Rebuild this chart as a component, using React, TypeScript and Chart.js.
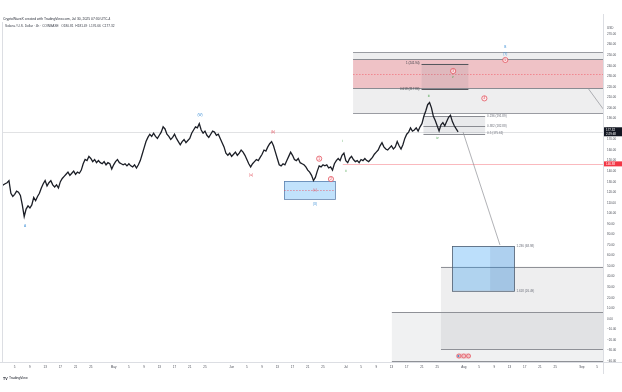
import React, { useEffect, useRef } from 'react';
import { Chart, registerables } from 'chart.js';

Chart.register(...registerables);

// ---- price data: 12h closes, Apr 1 2025 (day 0) onward ----
const firstDay = 0.5;
const dayStep = 0.5;
const closes = [
  126, 127, 128, 129, 131, 119, 116, 118, 121, 120, 117, 108, 97, 104, 107, 105, 108, 115, 112, 116,
  119, 124, 128, 131, 126, 129, 131, 127, 125, 127, 124, 130, 133, 135, 137, 139, 136, 138, 140, 137,
  139, 138, 141, 147, 151, 150, 154, 152, 149, 151, 148, 150, 148, 147, 149, 146, 148, 147, 142, 146,
  149, 151, 148, 147, 146, 147, 145, 147, 145, 144, 146, 143, 146, 150, 156, 162, 168, 172, 175, 173,
  176, 173, 171, 174, 177, 182, 180, 175, 173, 170, 172, 175, 171, 168, 165, 168, 170, 167, 169, 171,
  176, 179, 182, 181, 185, 179, 176, 178, 174, 172, 175, 178, 177, 174, 175, 171, 167, 163, 157, 155,
  157, 154, 156, 158, 155, 157, 160, 158, 155, 151, 147, 144, 147, 149, 151, 150, 153, 156, 160, 159,
  163, 166, 168, 164, 158, 152, 146, 145, 147, 146, 150, 154, 158, 155, 151, 150, 152, 148, 147, 146,
  144, 141, 139, 136, 131, 134, 140, 145, 144, 146, 145, 146, 143, 144, 141, 147, 150, 152, 150, 155,
  157, 150, 148, 152, 154, 151, 149, 150, 148, 151, 150, 152, 150, 149, 151, 153, 156, 158, 160, 164,
  167, 163, 161, 160, 162, 164, 161, 163, 168, 164, 161, 165, 171, 175, 177, 181, 178, 179, 181, 178,
  182, 185, 192, 197, 203, 205, 200, 192, 188, 183, 178, 184, 186, 183, 187, 191, 193, 187, 183, 180,
  177.32,
];

// ---- axes ----
const yTicks = [270, 260, 250, 240, 230, 220, 210, 200, 190, 180, 170, 160, 150, 140, 130, 120, 110, 100, 90, 80, 70, 60, 50, 40, 30, 20, 10, 0, -10, -20, -30, -40];
const xTickDays = [4, 8, 12, 16, 20, 24, 30, 34, 38, 42, 46, 50, 54, 61, 65, 69, 73, 77, 81, 85, 91, 95, 99, 103, 107, 111, 115, 122, 126, 130, 134, 138, 142, 146, 153, 157];
const xTickLabels = ['5', '9', '13', '17', '21', '25', 'May', '5', '9', '13', '17', '21', '25', 'Jun', '5', '9', '13', '17', '21', '25', 'Jul', '5', '9', '13', '17', '21', '25', 'Aug', '5', '9', '13', '17', '21', '25', 'Sep', '5'];

// ---- zones: [startDay, endDay, topPrice, bottomPrice] ----
const upperZone = [92.9, 158.6, 252.9, 195.1];
const pinkZone = [92.9, 158.6, 246.3, 218.8];
const pinkMid = 232.4;
const fibExtZone = [110.9, 123.2, 241.94, 217.86];
const extLevels = [241.94, 217.86];
const extLabels = ['1 (241.94)', '0.618 (217.86)'];
const retraceZone = [111.4, 127.6, 191.89, 175.61];
const retraceLevels = [191.89, 182.88, 175.61];
const retraceLabels = ['0.236 (191.89)', '0.382 (182.88)', '0.5 (175.61)'];
const juneZone = [74.8, 88.2, 130.6, 113.6];
const juneMid = 122.1;
const targetZone = [119.0, 135.3, 68.98, 26.49];
const targetSplit = 128.9;
const targetLevels = [68.98, 26.49];
const targetLabels = ['1.236 (68.98)', '1.618 (26.49)'];
const lowerZoneA = [116.0, 158.6, 49.5, -28.6];
const lowerZoneB = [103.1, 158.6, 6.4, -40.0];

const lastPrice = 177.32;
const markedPrice = 146.88;
const markedFrom = 90.2;
const projectionLine = [[121.8, 177.0], [131.5, 70.0]];
const edgeLine = [[154.6, 218.8], [158.6, 199.0]];

// ---- wave labels: [day, price, text] ----
const blueWave = [[6.7, 88.0, 'A'], [52.7, 193.2, '(W)'], [82.9, 108.8, '(X)'], [132.9, 257.6, 'B'], [132.9, 251.4, '(Y)']];
const redWave = [[66.1, 136.3, '(a)'], [71.9, 177.1, '(b)'], [82.9, 122.1, '(c)']];
const circledWave = [[84.0, 151.8, '1'], [87.1, 132.5, '2'], [119.2, 234.9, '3'], [127.4, 209.0, '4'], [132.9, 245.4, '5']];
const greenWave = [[90.2, 168.6, 'i'], [91.0, 140.1, 'ii'], [112.8, 211.2, 'iii'], [115.1, 171.1, 'iv'], [119.1, 229.0, 'v']];

const headerLine = 'CryptoWaveX created with TradingView.com, Jul 30, 2025 07:30 UTC-4';
const legendLine = 'Solana / U.S. Dollar · 4h · COINBASE   O180.81  H181.49  L176.66  C177.32';

const FONT = '"Liberation Sans", Arial, sans-serif';

const overlay = {
  id: 'overlay',
  beforeDatasetsDraw(chart: any) {
    const { ctx, chartArea: ca, scales } = chart;
    const X = (t: number) => scales.x.getPixelForValue(t);
    const Y = (v: number) => scales.y.getPixelForValue(v);
    ctx.save();
    ctx.beginPath();
    ctx.rect(ca.left, ca.top, ca.right - ca.left, ca.bottom - ca.top);
    ctx.clip();
    const fillZone = (z: number[], color: string) => {
      ctx.fillStyle = color;
      ctx.fillRect(X(z[0]), Y(z[2]), X(z[1]) - X(z[0]), Y(z[3]) - Y(z[2]));
    };
    const hline = (t1: number, t2: number, v: number, color: string, w = 1, dash: number[] = []) => {
      const yy = Math.round(Y(v)) + 0.5;
      ctx.strokeStyle = color;
      ctx.lineWidth = w;
      ctx.setLineDash(dash);
      ctx.beginPath();
      ctx.moveTo(X(t1), yy);
      ctx.lineTo(X(t2), yy);
      ctx.stroke();
      ctx.setLineDash([]);
    };
    // last price line
    hline(0, 160, lastPrice, 'rgba(120,123,134,0.22)');
    // lower zones
    fillZone(lowerZoneB, 'rgba(120,123,134,0.11)');
    fillZone(lowerZoneA, 'rgba(120,123,134,0.13)');
    hline(lowerZoneB[0], lowerZoneB[1], lowerZoneB[2], '#8f9197');
    hline(lowerZoneB[0], lowerZoneB[1], lowerZoneB[3], '#8f9197');
    hline(lowerZoneA[0], lowerZoneA[1], lowerZoneA[2], '#8f9197');
    hline(lowerZoneA[0], lowerZoneA[1], lowerZoneA[3], '#8f9197');
    // upper zones
    fillZone(upperZone, 'rgba(120,123,134,0.13)');
    hline(upperZone[0], upperZone[1], upperZone[2], '#9a9ca2');
    hline(upperZone[0], upperZone[1], upperZone[3], '#9a9ca2');
    fillZone(pinkZone, 'rgba(242,54,69,0.24)');
    hline(pinkZone[0], pinkZone[1], pinkZone[2], '#8a8c92');
    hline(pinkZone[0], pinkZone[1], pinkZone[3], '#8a8c92');
    hline(pinkZone[0], pinkZone[1], pinkMid, 'rgba(242,54,69,0.55)', 0.8, [1.5, 1.5]);
    fillZone(fibExtZone, 'rgba(120,123,134,0.14)');
    extLevels.forEach((v) => hline(fibExtZone[0], fibExtZone[1], v, '#55575d'));
    // june zone
    fillZone(juneZone, 'rgba(33,150,243,0.28)');
    ctx.strokeStyle = 'rgba(70,110,160,0.85)';
    ctx.lineWidth = 0.8;
    ctx.strokeRect(Math.round(X(juneZone[0])) + 0.5, Math.round(Y(juneZone[2])) + 0.5, X(juneZone[1]) - X(juneZone[0]), Y(juneZone[3]) - Y(juneZone[2]));
    hline(juneZone[0], juneZone[1], juneMid, 'rgba(242,54,69,0.6)', 0.8, [1.5, 1.5]);
    // retracement zone
    fillZone(retraceZone, 'rgba(120,123,134,0.16)');
    retraceLevels.forEach((v) => hline(retraceZone[0], retraceZone[1], v, '#8a8c92'));
    // target zone
    fillZone(targetZone, 'rgba(33,150,243,0.3)');
    fillZone([targetSplit, targetZone[1], targetZone[2], targetZone[3]], 'rgba(30,70,120,0.09)');
    ctx.strokeStyle = '#4f5e70';
    ctx.lineWidth = 0.8;
    ctx.strokeRect(Math.round(X(targetZone[0])) + 0.5, Math.round(Y(targetZone[2])) + 0.5, X(targetZone[1]) - X(targetZone[0]), Y(targetZone[3]) - Y(targetZone[2]));
    // marked price line
    hline(markedFrom, 160, markedPrice, 'rgba(242,54,69,0.35)');
    // projection and edge lines
    ctx.strokeStyle = '#8f9197';
    ctx.lineWidth = 0.7;
    [projectionLine, edgeLine].forEach((ln) => {
      ctx.beginPath();
      ctx.moveTo(X(ln[0][0]), Y(ln[0][1]));
      ctx.lineTo(X(ln[1][0]), Y(ln[1][1]));
      ctx.stroke();
    });
    ctx.restore();
  },
  afterDatasetsDraw(chart: any) {
    const { ctx, scales } = chart;
    const X = (t: number) => scales.x.getPixelForValue(t);
    const Y = (v: number) => scales.y.getPixelForValue(v);
    ctx.save();
    ctx.textBaseline = 'middle';
    ctx.font = `3px ${FONT}`;
    // fib labels
    ctx.fillStyle = '#6a6d78';
    ctx.textAlign = 'left';
    retraceLevels.forEach((v, i) => ctx.fillText(retraceLabels[i], X(retraceZone[1]) + 2, Y(v)));
    targetLevels.forEach((v, i) => ctx.fillText(targetLabels[i], X(targetZone[1]) + 2, Y(v)));
    ctx.fillStyle = '#3a3d45';
    ctx.textAlign = 'right';
    extLevels.forEach((v, i) => ctx.fillText(extLabels[i], X(fibExtZone[0]) - 2, Y(v)));
    // wave labels
    ctx.textAlign = 'center';
    ctx.font = `3.2px ${FONT}`;
    ctx.fillStyle = '#3d8fd6';
    blueWave.forEach((l) => ctx.fillText(l[2] as string, X(l[0] as number), Y(l[1] as number)));
    ctx.fillStyle = '#e0434f';
    redWave.forEach((l) => ctx.fillText(l[2] as string, X(l[0] as number), Y(l[1] as number)));
    ctx.fillStyle = '#43a047';
    greenWave.forEach((l) => ctx.fillText(l[2] as string, X(l[0] as number), Y(l[1] as number)));
    circledWave.forEach((l) => {
      const cx = X(l[0] as number);
      const cy = Y(l[1] as number);
      ctx.beginPath();
      ctx.arc(cx, cy, 2.6, 0, Math.PI * 2);
      ctx.fillStyle = 'rgba(255,235,237,0.8)';
      ctx.fill();
      ctx.strokeStyle = '#e0434f';
      ctx.lineWidth = 0.7;
      ctx.stroke();
      ctx.fillStyle = '#e0434f';
      ctx.font = `3px ${FONT}`;
      ctx.fillText(l[2] as string, cx, cy + 0.2);
    });
    ctx.restore();
  },
  afterDraw(chart: any) {
    const { ctx, chartArea: ca, scales } = chart;
    const X = (t: number) => scales.x.getPixelForValue(t);
    const Y = (v: number) => scales.y.getPixelForValue(v);
    ctx.save();
    // frame lines
    ctx.strokeStyle = '#dcdee3';
    ctx.lineWidth = 1;
    ctx.beginPath();
    ctx.moveTo(ca.right + 0.5, 14);
    ctx.lineTo(ca.right + 0.5, 374);
    ctx.moveTo(0, ca.bottom + 0.5);
    ctx.lineTo(622, ca.bottom + 0.5);
    ctx.moveTo(ca.left - 0.5, 22);
    ctx.lineTo(ca.left - 0.5, ca.bottom);
    ctx.stroke();
    // y labels
    ctx.font = `3px ${FONT}`;
    ctx.textBaseline = 'middle';
    ctx.textAlign = 'left';
    ctx.fillStyle = '#4a4d57';
    yTicks.forEach((v) => ctx.fillText(v < 0 ? '\u2212' + Math.abs(v).toFixed(2) : v.toFixed(2), ca.right + 4, Y(v)));
    ctx.fillText('USD', ca.right + 4, Y(276));
    // x labels
    ctx.textAlign = 'center';
    xTickDays.forEach((d, i) => ctx.fillText(xTickLabels[i], X(d), 367));
    // price tags
    const yl = Y(lastPrice);
    ctx.fillStyle = '#131722';
    ctx.fillRect(ca.right + 1, yl - 4.5, 18, 9);
    ctx.fillStyle = '#ffffff';
    ctx.textAlign = 'left';
    ctx.fillText(lastPrice.toFixed(2), ca.right + 3, yl - 1.8);
    ctx.fillText('2:29:48', ca.right + 3, yl + 2);
    const ym = Y(markedPrice);
    ctx.fillStyle = '#f23645';
    ctx.fillRect(ca.right + 1, ym - 2.5, 18, 5);
    ctx.fillStyle = '#ffffff';
    ctx.fillText(markedPrice.toFixed(2), ca.right + 3, ym);
    // event icons on time axis
    const ex = X(120.2);
    ctx.fillStyle = 'rgba(242,54,69,0.25)';
    ctx.beginPath();
    ctx.roundRect(ex - 1, 353.5, 15, 5, 2.5);
    ctx.fill();
    [0, 1, 2].forEach((k) => {
      ctx.beginPath();
      ctx.arc(ex + 2 + k * 4.8, 356, 2, 0, Math.PI * 2);
      ctx.strokeStyle = '#e0434f';
      ctx.lineWidth = 0.6;
      ctx.stroke();
    });
    ctx.fillStyle = '#3d8fd6';
    ctx.beginPath();
    ctx.arc(ex + 1.5, 356, 0.9, 0, Math.PI * 2);
    ctx.fill();
    // header
    ctx.textAlign = 'left';
    ctx.fillStyle = '#2a2e39';
    ctx.font = `3.4px ${FONT}`;
    ctx.fillText(headerLine, 3, 19);
    ctx.font = `3.2px ${FONT}`;
    ctx.fillStyle = '#3a3e49';
    ctx.fillText(legendLine, 5, 26.5);
    // TradingView logo
    ctx.fillStyle = '#131722';
    ctx.font = `bold 3.6px ${FONT}`;
    ctx.fillText('TV', 3, 378.5);
    ctx.font = `3.4px ${FONT}`;
    ctx.fillText('TradingView', 9, 378.5);
    ctx.restore();
  },
};

export default function App() {
  const ref = useRef<HTMLCanvasElement>(null);
  useEffect(() => {
    if (!ref.current) return;
    const points = closes.map((c, i) => ({ x: firstDay + i * dayStep, y: c }));
    const chart = new Chart(ref.current, {
      type: 'line',
      data: {
        datasets: [
          {
            data: points,
            borderColor: '#1b1e26',
            borderWidth: 1.3,
            pointRadius: 0,
            tension: 0,
          },
        ],
      },
      options: {
        animation: false,
        responsive: false,
        devicePixelRatio: 1,
        layout: { padding: { left: 3, top: 14, right: 0, bottom: 0 } },
        plugins: { legend: { display: false }, tooltip: { enabled: false } },
        scales: {
          x: {
            type: 'linear',
            min: 0.93,
            max: 158.57,
            grid: { display: false },
            border: { display: false },
            ticks: { display: false },
            afterFit: (s: any) => { s.height = 30; },
          },
          y: {
            position: 'right',
            min: -41,
            max: 289,
            grid: { display: false },
            border: { display: false },
            ticks: { display: false },
            afterFit: (s: any) => { s.width = 19; },
          },
        },
      },
      plugins: [overlay],
    });
    return () => chart.destroy();
  }, []);
  return (
    <div style={{ position: 'fixed', left: 0, top: 0, width: 622, height: 392, background: '#ffffff' }}>
      <canvas ref={ref} width={622} height={392} style={{ width: 622, height: 392, display: 'block' }} />
    </div>
  );
}
